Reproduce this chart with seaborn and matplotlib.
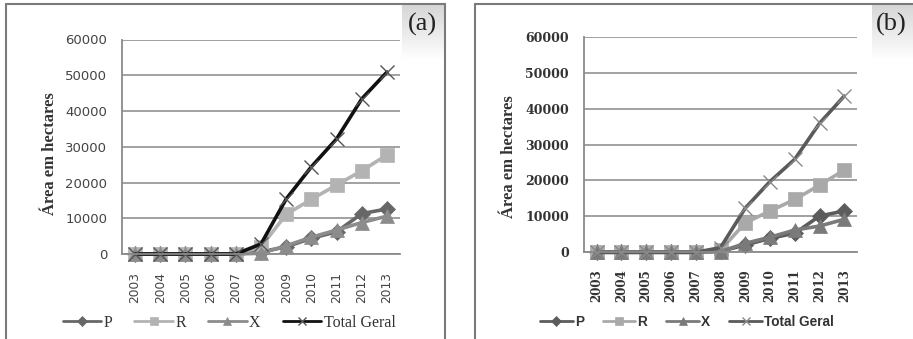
import numpy as np
import pandas as pd
import matplotlib
matplotlib.use("Agg")
import matplotlib.pyplot as plt
import seaborn as sns
from matplotlib.lines import Line2D

# --- data -------------------------------------------------------------
years = [str(y) for y in range(2003, 2014)]
series_names = ["P", "R", "X", "Total Geral"]

p_a = [0, 0, 0, 0, 0, 600, 2000, 4400, 6200, 11300, 12600]
r_a = [0, 0, 0, 0, 0, 2000, 11100, 15300, 19300, 23300, 27700]
x_a = [0, 0, 0, 0, 0, 200, 2300, 4700, 6700, 8800, 10600]
total_a = [0, 0, 0, 0, 0, 2800, 15400, 24400, 32200, 43400, 50900]

p_b = [0, 0, 0, 0, 0, 300, 2000, 3900, 5300, 10100, 11500]
r_b = [0, 0, 0, 0, 0, 600, 8200, 11500, 14700, 18700, 22900]
x_b = [0, 0, 0, 0, 0, 200, 2500, 4200, 6200, 7300, 9200]
total_b = [0, 0, 0, 0, 0, 1300, 12300, 19700, 25900, 35900, 43500]

y_ticks = [0, 10000, 20000, 30000, 40000, 50000, 60000]

# --- styling ----------------------------------------------------------
sns.set_style("white")
plt.rcParams["font.family"] = ["DejaVu Sans"]

W, H = 913, 339
fig = plt.figure(figsize=(W / 100, H / 100), dpi=100)


def fx(px):
    return px / W


def fy(py):
    return 1 - py / H


markers = ["D", "s", "^", "x"]
msizes = [8.5, 10, 9.5, 10]


def panel(box, data, colors, total_mcolor, tick_font, ytick_font, leg_font,
          leg_center, ylabel_xy, xpad, tag, tag_center, tag_box):
    x0, x1, ytop, ybot = box
    ax = fig.add_axes([fx(x0), fy(ybot), fx(x1) - fx(x0), fy(ytop) - fy(ybot)])
    xs = np.arange(len(years))
    for name, vals, col, mk, ms in zip(series_names, data, colors, markers, msizes):
        mcol = total_mcolor if name == "Total Geral" else col
        sns.lineplot(x=xs, y=vals, ax=ax, color=col, linewidth=2.6,
                     marker=mk, markersize=ms, markerfacecolor=mcol,
                     markeredgecolor=mcol, markeredgewidth=1.0 if mk == "x" else 0.5,
                     clip_on=False, label=name, legend=False)
    ax.set_xlim(-0.5, len(years) - 0.5)
    ax.set_ylim(0, 60000)
    ax.set_yticks(y_ticks)
    ax.set_yticklabels([str(v) for v in y_ticks], **ytick_font)
    ax.set_xticks(xs)
    ax.set_xticklabels(years, rotation=90, **tick_font)
    ax.set_xticks(np.arange(-0.5, len(years)), minor=True)
    ax.tick_params(axis="x", which="major", length=0, pad=xpad)
    ax.tick_params(axis="x", which="minor", length=5, color="#8a8a8a", width=1.2)
    ax.tick_params(axis="y", length=5, color="#8a8a8a", width=1.2, pad=6)
    ax.grid(axis="y", color="#9a9a9a", linewidth=1.3)
    ax.set_axisbelow(True)
    for s in ["top", "right"]:
        ax.spines[s].set_visible(False)
    for s in ["left", "bottom"]:
        ax.spines[s].set_color("#8a8a8a")
        ax.spines[s].set_linewidth(1.3)
    ax.set_ylabel("Área em hectares", family=["Liberation Serif"], weight="bold",
                  fontsize=12, color="#333333")
    ax.yaxis.set_label_coords(*ylabel_xy)
    ax.set_xlabel("")
    handles, labels = ax.get_legend_handles_labels()
    leg = fig.legend(handles, labels, loc="center", ncol=4, frameon=False,
                     bbox_to_anchor=(fx(leg_center[0]), fy(leg_center[1])),
                     handlelength=2.4, handletextpad=0.15, columnspacing=1.4,
                     markerscale=0.55, prop=leg_font)
    for t in leg.get_texts():
        t.set_color("#333333")
    for h in leg.legend_handles:
        h.set_linewidth(2.0)
    # tag box with soft gray fade
    bx0, by0, bx1, by1 = tag_box
    tax = fig.add_axes([fx(bx0), fy(by1), fx(bx1) - fx(bx0), fy(by0) - fy(by1)])
    grad = np.linspace(0.84, 1.0, 100).reshape(-1, 1)
    tax.imshow(np.dstack([grad] * 3), aspect="auto", extent=[0, 1, 0, 1])
    tax.set_axis_off()
    fig.text(fx(tag_center[0]), fy(tag_center[1]), tag, ha="center", va="center",
             family=["Liberation Serif"], fontsize=19, color="#222222")
    return ax


# panel (a)
panel(box=(122.4, 399.6, 39.5, 254.0),
      data=[p_a, r_a, x_a, total_a],
      colors=["#676767", "#b3b3b3", "#8c8c8c", "#111111"],
      total_mcolor="#555555",
      tick_font=dict(family=["DejaVu Sans"], fontsize=8.8, color="#444444"),
      ytick_font=dict(family=["DejaVu Sans"], fontsize=9.5, color="#444444"),
      leg_font=dict(family=["Liberation Serif"], size=11.5),
      leg_center=(229, 323),
      ylabel_xy=(-0.232, 0.47), xpad=13,
      tag="(a)", tag_center=(422, 24), tag_box=(402, 5, 445, 60))

# panel (b)
panel(box=(584.3, 856.7, 36.7, 252.3),
      data=[p_b, r_b, x_b, total_b],
      colors=["#5c5c5c", "#a9a9a9", "#7a7a7a", "#5a5a5a"],
      total_mcolor="#8a8a8a",
      tick_font=dict(family=["DejaVu Serif"], fontsize=8.6, weight="bold", color="#333333"),
      ytick_font=dict(family=["DejaVu Serif"], fontsize=9, weight="bold", color="#333333"),
      leg_font=dict(family=["Liberation Sans"], size=9.8, weight="bold"),
      leg_center=(687, 322),
      ylabel_xy=(-0.247, 0.442), xpad=12,
      tag="(b)", tag_center=(891, 24), tag_box=(872, 5, 913, 60))

# panel frames
frame_kw = dict(color="#7a7a7a", linewidth=1.5, transform=fig.transFigure)
fig.add_artist(Line2D([fx(6), fx(6)], [fy(4), 0], **frame_kw))
fig.add_artist(Line2D([fx(6), fx(445)], [fy(4), fy(4)], **frame_kw))
fig.add_artist(Line2D([fx(445), fx(445)], [fy(4), 0], **frame_kw))
fig.add_artist(Line2D([fx(475), fx(475)], [fy(4), 0], **frame_kw))
fig.add_artist(Line2D([fx(475), 1], [fy(4), fy(4)], **frame_kw))

fig.savefig("out.png", dpi=100)
